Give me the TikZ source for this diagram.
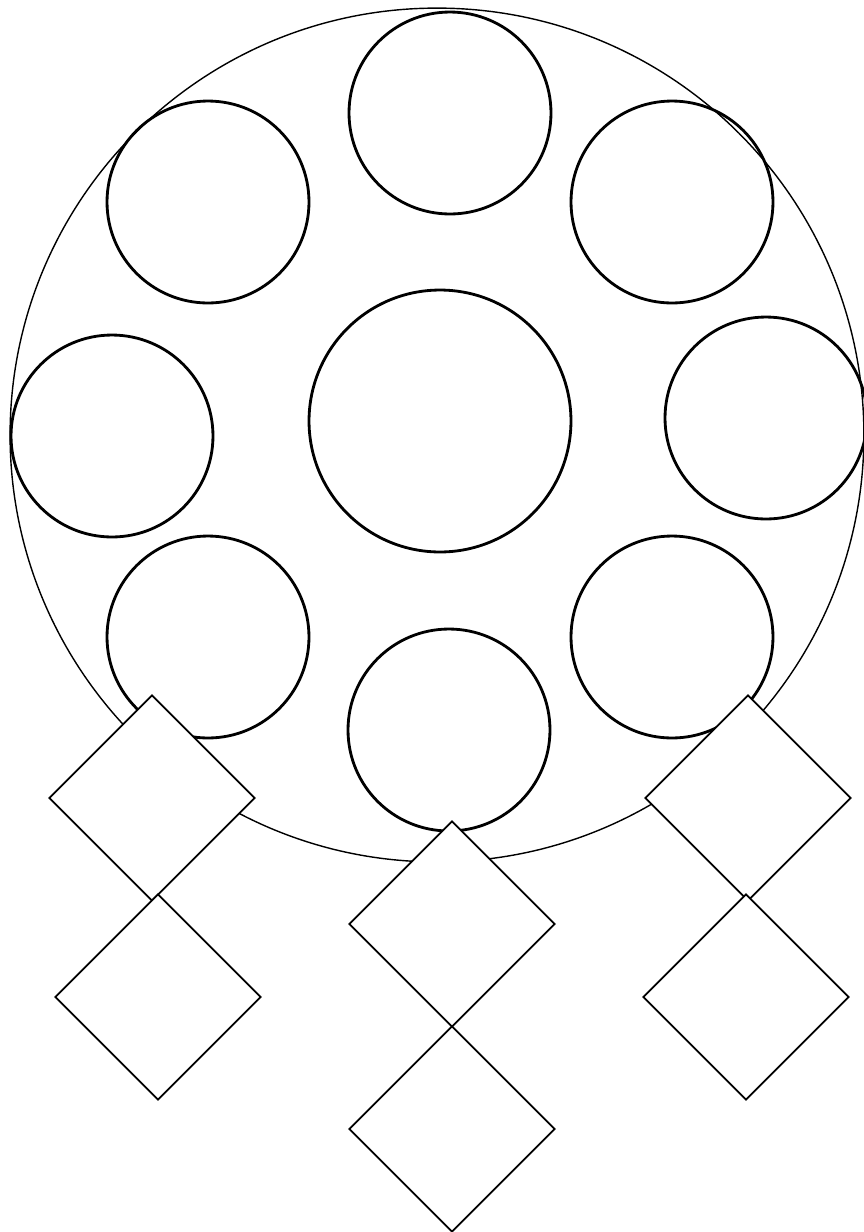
\documentclass[tikz,border=0pt]{standalone}
\usetikzlibrary{shapes.geometric}
\tikzset{
  hoop/.style={circle, draw, line width=0.8pt, inner sep=0pt, minimum size=17.08cm},
  bead/.style={circle, draw, line width=1.6pt, inner sep=0pt, minimum size=4.04cm},
  bigbead/.style={bead, minimum size=5.24cm},
  tassel/.style={diamond, draw, fill=white, line width=1pt, inner sep=0pt,
    minimum width=4.12cm, minimum height=4.12cm},
}

\begin{document}
\begin{tikzpicture}[x=0.02cm, y=-0.02cm]
    \useasboundingbox (0,0) rectangle (864,1232);

    % outer ring
    \node[hoop] (hoop) at (437,435) {};

    % beads
    \node[bigbead] (mid) at (440,421) {};
    \node[bead] (n)  at (450,113) {};
    \node[bead] (nw) at (208,202) {};
    \node[bead] (ne) at (672,202) {};
    \node[bead] (w)  at (112,436) {};
    \node[bead] (e)  at (766,418) {};
    \node[bead] (sw) at (208,637) {};
    \node[bead] (se) at (672,637) {};
    \node[bead] (s)  at (449,730) {};

    % hanging diamonds
    \node[tassel] (l1) at (152,798) {};
    \node[tassel] (l2) at (158,997) {};
    \node[tassel] (c1) at (452,924) {};
    \node[tassel] (c2) at (452,1129) {};
    \node[tassel] (r1) at (748,798) {};
    \node[tassel] (r2) at (746,997) {};

\end{tikzpicture}
\end{document}
